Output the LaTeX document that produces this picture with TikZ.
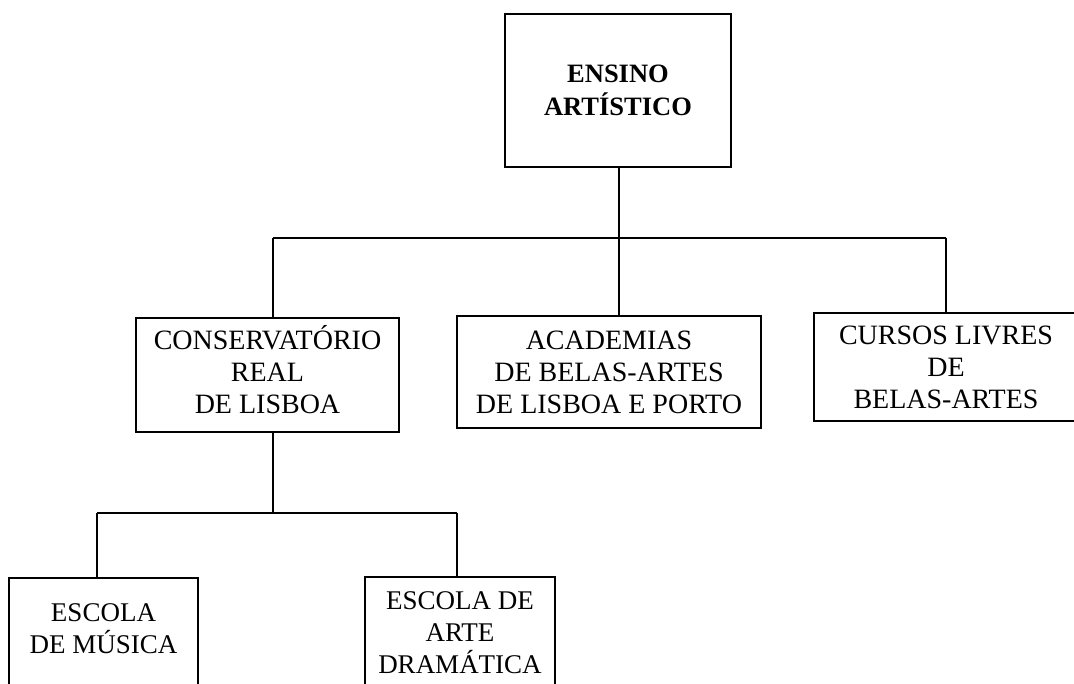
\documentclass[tikz,border=0pt]{standalone}
\usepackage{fontspec}
\setmainfont{Liberation Serif}
\begin{document}
\begin{tikzpicture}[x=1pt,y=-1pt,
  box/.style={draw=black,line width=1.3pt,inner sep=0pt,align=center,
    font=\fontsize{28}{32}\selectfont},
  lowbox/.style={box,font=\fontsize{27}{32}\selectfont},
  topbox/.style={box,line width=2pt,font=\fontsize{26.5}{33}\selectfont\bfseries},
  conn/.style={draw=black,line width=1.3pt}]
\useasboundingbox (0,0) rectangle (1074,683);
\clip (0,0) rectangle (1074,683);
\fill[white] (0,0) rectangle (1074,683);
% boxes
\node[topbox,minimum width=226pt,minimum height=153pt] (top) at (618,90.5) {ENSINO\\ARTÍSTICO};
\node[box,minimum width=263pt,minimum height=114pt] (cons) at (267.5,375) {CONSERVATÓRIO\\REAL\\DE LISBOA\\[-21pt]\mbox{}};
\node[box,minimum width=304pt,minimum height=112pt] (acad) at (609,372) {ACADEMIAS\\DE BELAS-ARTES\\DE LISBOA E PORTO};
\node[box,minimum width=264pt,minimum height=108pt] (curs) at (946,367) {CURSOS LIVRES\\DE\\BELAS-ARTES};
\node[lowbox,minimum width=189pt,minimum height=134pt] (mus) at (103.5,645) {ESCOLA\\DE MÚSICA\\[1pt]\mbox{}};
\node[lowbox,minimum width=190pt,minimum height=112pt] (arte) at (460,633) {ESCOLA DE\\ARTE\\DRAMÁTICA};
% junctions
\coordinate (hbL) at (273,238);
\coordinate (hbM) at (619,238);
\coordinate (hbR) at (946,238);
\coordinate (lbL) at (97,513);
\coordinate (lbM) at (273,513);
\coordinate (lbR) at (457,513);
% connectors
\draw[conn] (hbM |- top.south) -- (hbM);
\draw[conn] (hbL) -- (hbR);
\draw[conn] (hbL) -- (hbL |- cons.north);
\draw[conn] (hbM) -- (hbM |- acad.north);
\draw[conn] (hbR) -- (hbR |- curs.north);
\draw[conn] (lbM |- cons.south) -- (lbM);
\draw[conn] (lbL) -- (lbR);
\draw[conn] (lbL) -- (lbL |- mus.north);
\draw[conn] (lbR) -- (lbR |- arte.north);
\end{tikzpicture}
\end{document}
